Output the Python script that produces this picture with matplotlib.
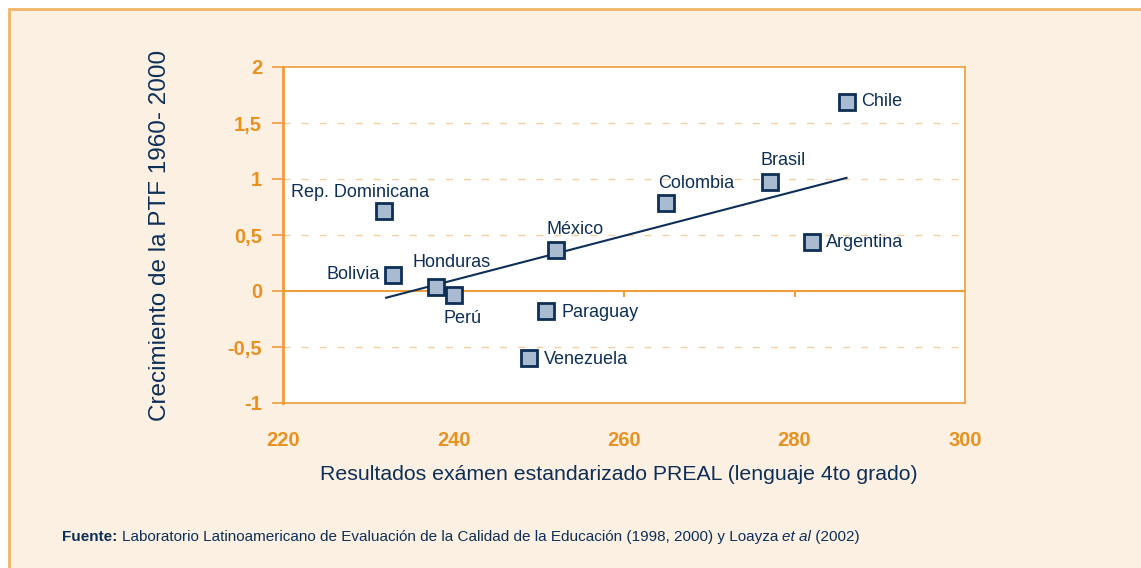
import matplotlib.pyplot as plt
from matplotlib.patches import Rectangle

# data
countries = ['Chile', 'Brasil', 'Colombia', 'Argentina', 'México', 'Rep. Dominicana',
             'Bolivia', 'Honduras', 'Perú', 'Paraguay', 'Venezuela']
score = [286.1, 277.1, 264.9, 282.1, 252.0, 231.9, 232.9, 237.9, 240.0, 250.9, 248.9]
ptf = [1.69, 0.97, 0.79, 0.44, 0.37, 0.71, 0.14, 0.04, -0.04, -0.18, -0.60]
trend_x = [232.1, 286.1]
trend_y = [-0.06, 1.01]
xticks = [220, 240, 260, 280, 300]
yticks = [-1, -0.5, 0, 0.5, 1, 1.5, 2]
ytick_labels = ['-1', '-0,5', '0', '0,5', '1', '1,5', '2']

# label placement (pixel offset from marker, alignment)
label_pos = {
    'Chile': (15, 0, 'left'),
    'Brasil': (13, 22, 'center'),
    'Colombia': (30, 19, 'center'),
    'Argentina': (14, -1, 'left'),
    'México': (19, 20, 'center'),
    'Rep. Dominicana': (-24, 19, 'center'),
    'Bolivia': (-13, 1, 'right'),
    'Honduras': (16, 24, 'center'),
    'Perú': (9, -23, 'center'),
    'Paraguay': (15, -1, 'left'),
    'Venezuela': (15, -1, 'left'),
}

orange = '#E8911F'
spine_col = '#EE9D3C'
grid_col = '#F5CFA2'
navy = '#0D2F57'
cream = '#FCF0E3'

plt.rcParams['font.family'] = ['Liberation Sans', 'DejaVu Sans']

fig = plt.figure(figsize=(11.41, 5.68), dpi=100)
fig.patch.set_facecolor('white')
fig.patches.append(Rectangle((9 / 1141, -0.02), 1.05, (568 - 9) / 568 + 0.02,
                             transform=fig.transFigure, facecolor=cream,
                             edgecolor='#F2B469', linewidth=2, zorder=-5))

ax = fig.add_axes([283 / 1141, 165 / 568, 682 / 1141, 336 / 568])
ax.set_facecolor('white')
ax.set_xlim(220, 300)
ax.set_ylim(-1, 2)

for s in ax.spines.values():
    s.set_color(spine_col)
    s.set_linewidth(1.2)
ax.spines['left'].set_linewidth(2)

for yv in yticks:
    if yv not in (-1, 0, 2):
        ax.axhline(yv, color=grid_col, lw=1, ls=(0, (5, 8)), zorder=1)
ax.axhline(0, color=spine_col, lw=1.5, zorder=1)
ax.vlines(xticks[1:-1], -0.055, 0, color=spine_col, lw=1.5, zorder=1)

ax.set_xticks(xticks)
ax.set_xticklabels([str(v) for v in xticks])
ax.tick_params(axis='x', length=0, pad=20, labelsize=14.5, labelcolor=orange)
ax.set_yticks(yticks)
ax.set_yticklabels(ytick_labels)
ax.tick_params(axis='y', length=8, width=1.2, color=spine_col, pad=7,
               labelsize=14.5, labelcolor=orange)
for lab in ax.get_xticklabels() + ax.get_yticklabels():
    lab.set_fontweight('bold')

ax.plot(trend_x, trend_y, color=navy, lw=1.5, zorder=2)
ax.plot(score, ptf, ls='none', marker='s', ms=12, mfc='#A9BBD1', mec=navy,
        mew=2, zorder=3)

for name, x, y in zip(countries, score, ptf):
    dx, dy, ha = label_pos[name]
    ax.annotate(name, (x, y), xytext=(dx, dy), textcoords='offset pixels',
                ha=ha, va='center', fontsize=13, color=navy, zorder=4)

fig.text(160 / 1141, 1 - 235 / 568, 'Crecimiento de la PTF 1960- 2000', rotation=90,
         ha='center', va='center', fontsize=17.5, color=navy)
fig.text(619 / 1141, 1 - 475 / 568,
         'Resultados exámen estandarizado PREAL (lenguaje 4to grado)',
         ha='center', va='center', fontsize=15.3, color=navy)

# footer with mixed styles
pieces = [('Fuente: ', 'bold', 'normal'),
          ('Laboratorio Latinoamericano de Evaluación de la Calidad de la Educación (1998, 2000) y Loayza ', 'normal', 'normal'),
          ('et al', 'normal', 'italic'),
          (' (2002)', 'normal', 'normal')]
renderer = fig.canvas.get_renderer()
xpos = 62
for txt, wt, st in pieces:
    t = fig.text(xpos / 1141, 1 - 537 / 568, txt, ha='left', va='center',
                 fontsize=11, color=navy, fontweight=wt, fontstyle=st)
    bb = t.get_window_extent(renderer=renderer)
    xpos = bb.x1

fig.savefig('out.png', dpi=100, facecolor=fig.get_facecolor())
